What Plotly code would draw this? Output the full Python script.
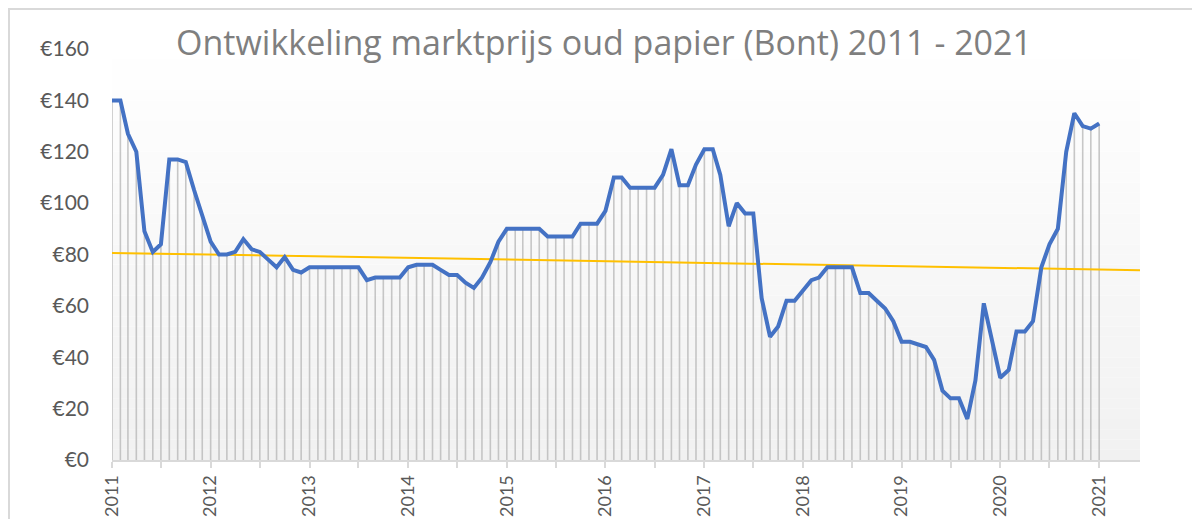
import numpy as np
import pandas as pd
import plotly.graph_objects as go

# ---- data ----
start_month = "2011-01-01"
prices = [
    140, 140, 127, 120, 89, 81, 84, 117, 117, 116, 105, 95,   # 2011
    85, 80, 80, 81, 86, 82, 81, 78, 75, 79, 74, 73,           # 2012
    75, 75, 75, 75, 75, 75, 75, 70, 71, 71, 71, 71,           # 2013
    75, 76, 76, 76, 74, 72, 72, 69, 67, 71, 77, 85,           # 2014
    90, 90, 90, 90, 90, 87, 87, 87, 87, 92, 92, 92,           # 2015
    97, 110, 110, 106, 106, 106, 106, 111, 121, 107, 107, 115,  # 2016
    121, 121, 111, 91, 100, 96, 96, 63, 48, 52, 62, 62,       # 2017
    66, 70, 71, 75, 75, 75, 75, 65, 65, 62, 59, 54,           # 2018
    46, 46, 45, 44, 39, 27, 24, 24, 16, 31, 61, 47,           # 2019
    32, 35, 50, 50, 54, 75, 84, 90, 120, 135, 130, 129,       # 2020
    131,                                                      # 2021
]
forecast_months = 5
trend_values = [80.6, 73.9]   # trendline start (2011-01) and end (forecast end)
title_text = "Ontwikkeling marktprijs oud papier (Bont) 2011 - 2021"
y_ticks = [0, 20, 40, 60, 80, 100, 120, 140, 160]
y_ticktext = ["€" + str(v) for v in y_ticks]

dates = pd.date_range(start_month, periods=len(prices), freq="MS")
all_dates = pd.date_range(start_month, periods=len(prices) + forecast_months, freq="MS")
trend_x = [all_dates[0], all_dates[-1]]

# drop lines
drop_x, drop_y = [], []
for d, v in zip(dates, prices):
    drop_x += [d, d, None]
    drop_y += [0, v, None]

fig = go.Figure()
fig.add_trace(go.Scatter(x=drop_x, y=drop_y, mode="lines",
                         line=dict(color="rgba(185,185,185,0.8)", width=1.6),
                         hoverinfo="skip", showlegend=False))
fig.add_trace(go.Scatter(x=trend_x, y=trend_values, mode="lines",
                         line=dict(color="#FFC000", width=2), showlegend=False))
fig.add_trace(go.Scatter(x=dates, y=prices, mode="lines",
                         line=dict(color="#4472C4", width=4), showlegend=False))

# page has an 8px body margin; figure sized to fit the 1200x519 window
W, H = 1192, 511
ml, mr, mt, mb = 104, 60, 41, 59
pw, ph = W - ml - mr, H - mt - mb

shapes = []
N = 40
for k in range(N):
    t = (k + 0.5) / N  # 0 bottom .. 1 top
    c = int(round(241 + (255 - 241) * t))
    shapes.append(dict(type="rect", xref="paper", yref="paper",
                       x0=0, x1=1, y0=k / N, y1=(k + 1) / N,
                       fillcolor=f"rgb({c},{c},{c})", line=dict(width=0),
                       layer="below"))
# outer chart border (left and top edges visible)
shapes.append(dict(type="rect", xref="paper", yref="paper",
                   x0=(1 - ml) / pw, x1=(W + 20 - ml) / pw,
                   y0=(H - mb - (H + 20)) / ph, y1=(H - mb - 1) / ph,
                   line=dict(color="#d9d9d9", width=2), fillcolor="rgba(0,0,0,0)",
                   layer="below"))

fig.update_layout(
    width=W, height=H,
    margin=dict(l=ml, r=mr, t=mt, b=mb, pad=0, autoexpand=False),
    paper_bgcolor="white", plot_bgcolor="white",
    font=dict(family="Lato, 'Open Sans', sans-serif", color="#595959"),
    title=dict(text=title_text, x=596 / W, xanchor="center",
               y=1 - 35 / H, yanchor="middle", yref="container",
               font=dict(size=34, color="#7f7f7f", family="'Open Sans', sans-serif")),
    shapes=shapes,
    showlegend=False,
)
fig.update_xaxes(
    type="date", automargin=False,
    range=[all_dates[0], all_dates[-1]],
    dtick="M12", tick0=start_month, tickformat="%Y",
    tickangle=-90, tickfont=dict(size=18, color="#595959"),
    ticks="outside", ticklen=6, tickcolor="#d9d9d9", tickwidth=1.5,
    minor=dict(dtick="M6", tick0=start_month, ticks="outside", ticklen=6,
               tickcolor="#d9d9d9", tickwidth=1.5, showgrid=False),
    showline=True, linecolor="#d9d9d9", linewidth=2,
    showgrid=False, zeroline=False,
)
fig.update_yaxes(
    range=[0, 160], tickvals=y_ticks, ticktext=y_ticktext, automargin=False,
    tickfont=dict(size=21, color="#595959"),
    showgrid=False, zeroline=False, showline=False,
    ticks="", ticklabelstandoff=22,
)

fig.write_html("out.html")
